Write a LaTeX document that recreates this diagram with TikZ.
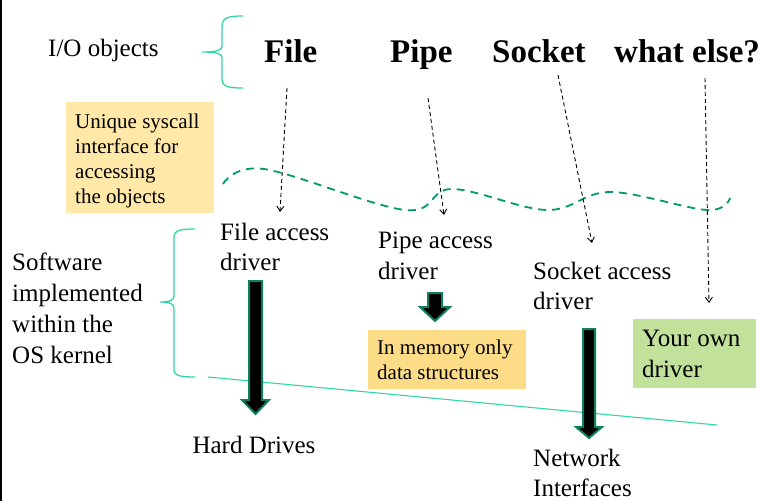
\documentclass[tikz,border=0pt]{standalone}
\usepackage{fontspec}
\setmainfont{Liberation Serif}
\usetikzlibrary{arrows.meta}
\definecolor{mint}{HTML}{33D6A6}
\definecolor{wavegreen}{HTML}{00996B}
\definecolor{arrowgreen}{HTML}{0F7F5F}
\definecolor{ylight}{HTML}{FFE8A8}
\definecolor{ydark}{HTML}{FDDC88}
\definecolor{gbox}{HTML}{C2E29C}
\tikzset{
  txt/.style={inner sep=0pt, anchor=north west, align=left},
  title/.style={inner sep=0pt, anchor=base west, font=\fontsize{33}{36}\selectfont\bfseries},
  fillbox/.style={draw=none, inner sep=0pt},
  dasharrow/.style={draw=black, line width=0.9pt, dash pattern=on 4pt off 3pt, -{Straight Barb[length=5pt,width=7pt]}},
  bracestyle/.style={draw=mint, line width=1.3pt},
  fatarrow/.style={fill=black, draw=arrowgreen, line width=2pt, line join=miter},
  wave/.style={draw=wavegreen, line width=1.8pt, dash pattern=on 8pt off 6pt}
}
\begin{document}
\begin{tikzpicture}[x=1pt,y=-1pt]
\useasboundingbox (0,0) rectangle (761,501);
\fill[white] (0,0) rectangle (761,501);
\draw[black, line width=1.5pt] (0.75,0) -- (0.75,501);

% boxes
\node[fillbox, fill=ylight, minimum width=148pt, minimum height=111pt] (ybox1) at (140,157.5) {};
\node[fillbox, fill=ydark, minimum width=158pt, minimum height=59pt] (ybox2) at (447,359.5) {};
\node[fillbox, fill=gbox, minimum width=123pt, minimum height=69pt] (gbox1) at (694.5,353.5) {};

% titles
\node[inner sep=0pt, anchor=base west, font=\fontsize{25}{28}\selectfont] (io) at (48,56) {I/O objects};
\node[title] (file) at (264,62) {File};
\node[title] (pipe) at (390,62) {Pipe};
\node[title] (socket) at (492,62) {Socket};
\node[title] (whatelse) at (614,62) {what else?};

% texts
\node[txt, font=\fontsize{21}{25}\selectfont] (syscall) at (75,113.5) {Unique syscall\\interface for\\accessing\\the objects};
\node[txt, font=\fontsize{25}{31}\selectfont] (software) at (12,253) {Software\\implemented\\within the\\OS kernel};
\node[txt, font=\fontsize{25}{30}\selectfont] (filedrv) at (220,223) {File access\\driver};
\node[txt, font=\fontsize{25}{31}\selectfont] (pipedrv) at (378,232) {Pipe access\\driver};
\node[txt, font=\fontsize{25}{30}\selectfont] (sockdrv) at (533,262) {Socket access\\driver};
\node[txt, font=\fontsize{25}{31}\selectfont] (owndrv) at (642,329.5) {Your own\\driver};
\node[txt, font=\fontsize{21}{25}\selectfont] (memonly) at (377,339.5) {In memory only\\data structures};
\node[inner sep=0pt, anchor=base, font=\fontsize{25}{28}\selectfont] (hdd) at (254,453) {Hard Drives};
\node[txt, font=\fontsize{25}{30}\selectfont] (net) at (533,449) {Network\\Interfaces};

% braces
\draw[bracestyle] (243,16) .. controls (226,16) and (222,18) .. (222,28) -- (222,46)
  .. controls (222,50) and (218,52) .. (202,52)
  .. controls (218,52) and (222,54) .. (222,58) -- (222,78)
  .. controls (222,86) and (226,88) .. (243,88);
\draw[bracestyle] (195,229) .. controls (178,229) and (174,231) .. (174,237) -- (174,296)
  .. controls (174,300) and (170,302) .. (160,302)
  .. controls (170,302) and (174,304) .. (174,308) -- (174,370)
  .. controls (174,375) and (178,377) .. (195,377);
\coordinate (kl) at (208,377);
\coordinate (kr) at (717,425);
\draw[draw=mint, line width=1.1pt] (kl) -- (kr);

% wave
\draw[wave] plot[smooth, tension=0.6] coordinates {(223,184) (264,169) (405,210) (452,189) (547,210) (610,192) (707,210) (730,198)};

% dashed arrows
\coordinate (d1s) at (287,88);  \coordinate (d1e) at (280,212);
\coordinate (d2s) at (428,98);  \coordinate (d2e) at (444,215);
\coordinate (d3s) at (558,75);  \coordinate (d3e) at (592,243);
\coordinate (d4s) at (705,78);  \coordinate (d4e) at (709,303);
\draw[dasharrow] (d1s) -- (d1e);
\draw[dasharrow] (d2s) -- (d2e);
\draw[dasharrow] (d3s) -- (d3e);
\draw[dasharrow] (d4s) -- (d4e);

% thick arrows
\draw[fatarrow] (249,281) -- (262,281) -- (262,400) -- (269,400) -- (255.5,414) -- (242,400) -- (249,400) -- cycle;
\draw[fatarrow] (428,293) -- (442,293) -- (442,307) -- (450,307) -- (435,321) -- (420,307) -- (428,307) -- cycle;
\draw[fatarrow] (583,329) -- (595,329) -- (595,427) -- (602,427) -- (589,438) -- (576,427) -- (583,427) -- cycle;
\end{tikzpicture}
\end{document}
